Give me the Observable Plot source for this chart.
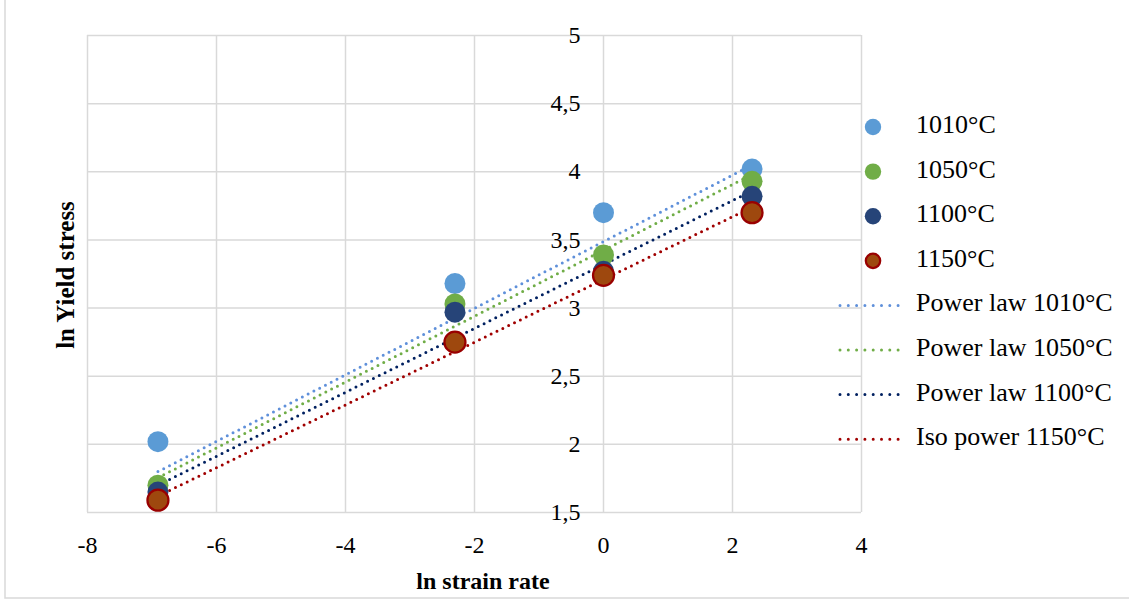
<!DOCTYPE html>
<html>
<head>
<meta charset="utf-8">
<script src="https://cdn.jsdelivr.net/npm/d3@7"></script>
<script src="https://cdn.jsdelivr.net/npm/@observablehq/plot@0.6"></script>
<style>
  html, body { margin: 0; padding: 0; background: #fff; }
  #chart { width: 1129px; height: 603px; overflow: hidden; }
</style>
</head>
<body>
<div id="chart"></div>
<script>
// ---- data ----
const strainRates = [-6.908, -2.303, 0, 2.303];           // ln strain rate
const seriesNames = ["1010°C", "1050°C", "1100°C", "1150°C"];
const y1010 = [2.02, 3.18, 3.70, 4.02];
const y1050 = [1.70, 3.03, 3.39, 3.93];
const y1100 = [1.65, 2.97, 3.27, 3.82];
const y1150 = [1.59, 2.75, 3.24, 3.70];

const trendNames = ["Power law 1010°C", "Power law 1050°C", "Power law 1100°C", "Iso power 1150°C"];
const trendX = [-6.908, 2.303];
const trendStart = [1.80, 1.755, 1.70, 1.62];
const trendEnd = [4.05, 3.98, 3.86, 3.74];

const xTicks = [-8, -6, -4, -2, 0, 2, 4];
const xTickLabels = ["-8", "-6", "-4", "-2", "0", "2", "4"];
const yTicks = [1.5, 2, 2.5, 3, 3.5, 4, 4.5, 5];
const yTickLabels = ["1,5", "2", "2,5", "3", "3,5", "4", "4,5", "5"];

const xTitle = "ln strain rate";
const yTitle = "ln Yield stress";

// ---- styles ----
const pointFill = {"1010°C": "#5B9BD5", "1050°C": "#70AD47", "1100°C": "#264478", "1150°C": "#9E480E"};
const pointStroke = {"1010°C": "#5B9BD5", "1050°C": "#70AD47", "1100°C": "#264478", "1150°C": "#990000"};
const pointStrokeW = {"1010°C": 0, "1050°C": 0, "1100°C": 0, "1150°C": 2.25};
const trendColor = {"Power law 1010°C": "#5F90DA", "Power law 1050°C": "#70AD47", "Power law 1100°C": "#002060", "Iso power 1150°C": "#A00000"};
const gridColor = "#d9d9d9";
const font = "'Liberation Serif', 'Times New Roman', serif";

// ---- tables ----
const ySeries = [y1010, y1050, y1100, y1150];
const points = seriesNames.flatMap((s, i) => strainRates.map((x, j) => ({series: s, x, y: ySeries[i][j]})));
const trends = trendNames.flatMap((s, i) => [
  {series: s, x: trendX[0], y: trendStart[i]},
  {series: s, x: trendX[1], y: trendEnd[i]}
]);

const plot = Plot.plot({
  width: 1129,
  height: 603,
  marginLeft: 87,
  marginRight: 268,
  marginTop: 35,
  marginBottom: 91,
  x: {domain: [-8, 4], axis: null},
  y: {domain: [1.5, 5], axis: null},
  color: {type: "identity"},
  style: {background: "white", overflow: "visible"},
  marks: [
    Plot.ruleX(xTicks, {stroke: gridColor, strokeWidth: 1.5}),
    Plot.ruleY(yTicks, {stroke: gridColor, strokeWidth: 1.5}),
    Plot.text(yTicks, {x: 0, y: d => d, text: (d, i) => yTickLabels[i], textAnchor: "end", dx: -23,
      fontSize: 24, fill: "#000"}),
    Plot.text(xTicks, {x: d => d, y: 1.5, text: (d, i) => xTickLabels[i], dy: 33,
      fontSize: 24, fill: "#000"}),
    Plot.line(trends, {x: "x", y: "y", z: "series", stroke: d => trendColor[d.series],
      strokeWidth: 3, strokeDasharray: "0 6.5", strokeLinecap: "round"}),
    Plot.dot(points, {x: "x", y: "y", r: 10.5, fill: d => pointFill[d.series],
      stroke: d => pointStroke[d.series], strokeWidth: d => pointStrokeW[d.series]})
  ]
});

document.getElementById("chart").appendChild(plot);

const svg = d3.select(plot);

// outer frame (left and bottom visible)
svg.insert("rect", ":first-child")
  .attr("x", 5).attr("y", -2).attr("width", 1130).attr("height", 600)
  .attr("fill", "none").attr("stroke", gridColor).attr("stroke-width", 1.5);

// axis titles
svg.append("text")
  .attr("x", 483).attr("y", 583)
  .attr("text-anchor", "middle").attr("dominant-baseline", "middle")
  .attr("font-weight", "bold").attr("font-size", 24).attr("fill", "#000")
  .text(xTitle);
svg.append("text")
  .attr("transform", "translate(68,275) rotate(-90)")
  .attr("text-anchor", "middle").attr("dominant-baseline", "middle")
  .attr("font-weight", "bold").attr("font-size", 25).attr("fill", "#000")
  .text(yTitle);

// legend
const legendItems = [
  ...seriesNames.map(s => ({type: "dot", label: s})),
  ...trendNames.map(s => ({type: "line", label: s}))
];
const lg = svg.append("g");
legendItems.forEach((it, i) => {
  const cy = 127 + i * 44.6;
  if (it.type === "dot") {
    lg.append("circle").attr("cx", 873).attr("cy", cy).attr("r", it.label === "1150°C" ? 7.2 : 8.2)
      .attr("fill", pointFill[it.label])
      .attr("stroke", pointStroke[it.label])
      .attr("stroke-width", pointStrokeW[it.label]);
  } else {
    lg.append("path").attr("d", `M840,${cy}H906`)
      .attr("fill", "none")
      .attr("stroke", trendColor[it.label]).attr("stroke-width", 3)
      .attr("stroke-dasharray", "0 8.3").attr("stroke-linecap", "round");
  }
  lg.append("text").attr("x", 916).attr("y", cy)
    .attr("text-anchor", "start").attr("dominant-baseline", "middle")
    .attr("font-size", 26).attr("fill", "#000")
    .text(it.label);
});

// force serif font on every text element
svg.selectAll("text").style("font-family", font).style("font-variant", "normal");
</script>
</body>
</html>
